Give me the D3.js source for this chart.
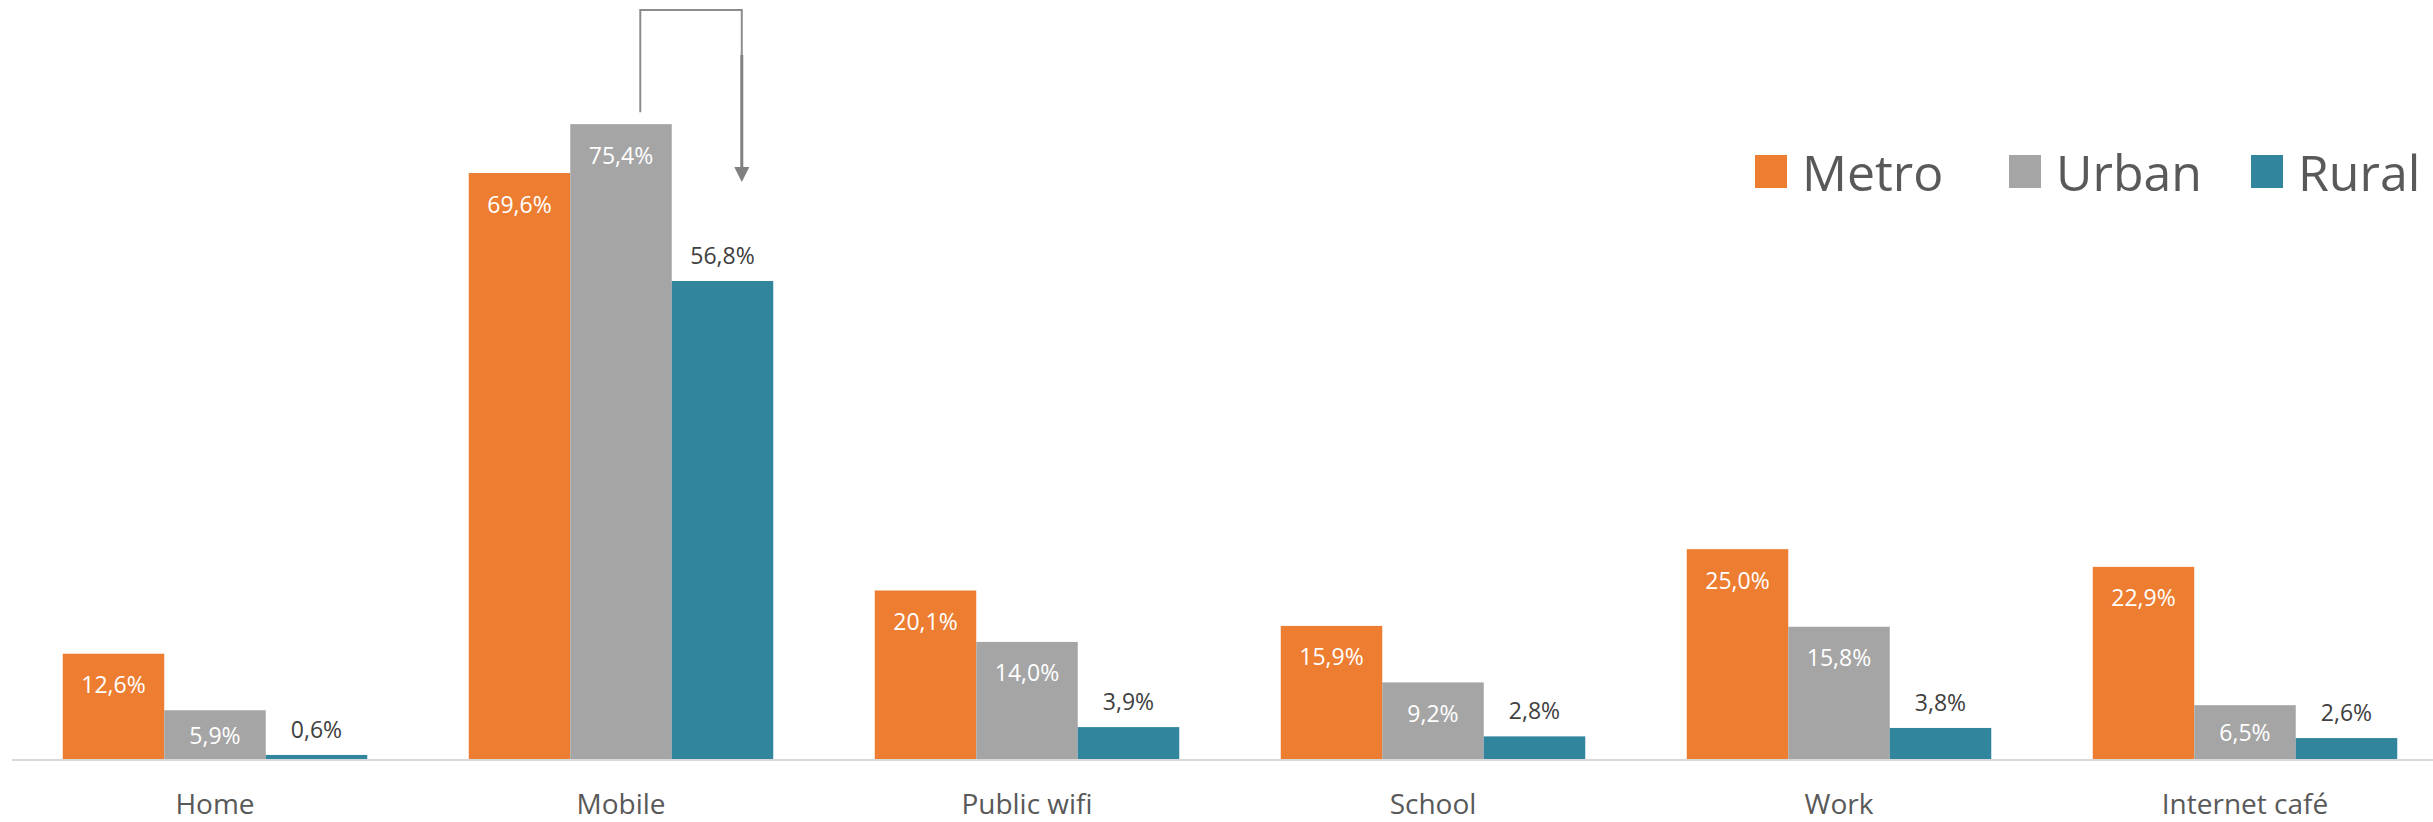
<!DOCTYPE html>
<html>
<head>
<meta charset="utf-8">
<script src="https://cdn.jsdelivr.net/npm/d3@7"></script>
<style>
  html, body { margin: 0; padding: 0; background: #fff; }
  svg { display: block; font-family: "Open Sans", "Noto Sans", sans-serif; }
</style>
</head>
<body>
<svg id="chart" width="2433" height="822"></svg>
<script>
const categories = ["Home", "Mobile", "Public wifi", "School", "Work", "Internet café"];
const seriesNames = ["Metro", "Urban", "Rural"];
const metro = [12.6, 69.6, 20.1, 15.9, 25.0, 22.9];
const urban = [5.9, 75.4, 14.0, 9.2, 15.8, 6.5];
const rural = [0.6, 56.8, 3.9, 2.8, 3.8, 2.6];
const colors = ["#ED7D31", "#A5A5A5", "#31859C"];

const seriesValues = [metro, urban, rural];
const W = 2433, H = 822;
const svg = d3.select("#chart");

const x = d3.scaleBand().domain(categories).range([12, 2448]).paddingInner(0.25).paddingOuter(0.125);
const xs = d3.scaleBand().domain(seriesNames).range([0, x.bandwidth()]);
const y = d3.scaleLinear().domain([0, 90]).range([760, 1]);

const fmt = v => d3.format(".1f")(v).replace(".", ",") + "%";

const rows = [];
categories.forEach((c, i) => {
  seriesNames.forEach((s, j) => rows.push({ cat: c, s, j, v: seriesValues[j][i] }));
});

// bars
svg.append("g").selectAll("rect").data(rows).join("rect")
  .attr("x", d => x(d.cat) + xs(d.s))
  .attr("y", d => y(d.v))
  .attr("width", xs.bandwidth())
  .attr("height", d => y(0) - y(d.v))
  .attr("fill", d => colors[d.j]);

// axis baseline
svg.append("line")
  .attr("x1", 12).attr("x2", W)
  .attr("y1", y(0)).attr("y2", y(0))
  .attr("stroke", "#D9D9D9").attr("stroke-width", 2);

// value labels
svg.append("g").selectAll("text").data(rows).join("text")
  .attr("x", d => x(d.cat) + xs(d.s) + xs.bandwidth() / 2)
  .attr("y", d => {
    const top = y(d.v);
    if (d.j === 2) return top - 17;
    const c = Math.min(top + 31, (top + y(0)) / 2);
    return c + 8.5;
  })
  .attr("text-anchor", "middle")
  .attr("font-size", 23)
  .attr("fill", d => d.j === 2 ? "#404040" : "#FFFFFF")
  .text(d => fmt(d.v));

// category labels
svg.append("g").selectAll("text").data(categories).join("text")
  .attr("x", d => x(d) + x.bandwidth() / 2)
  .attr("y", 814)
  .attr("text-anchor", "middle")
  .attr("font-size", 28)
  .attr("fill", "#595959")
  .text(d => d);

// legend
const legendX = [1755, 2009, 2251];
const lg = svg.append("g").selectAll("g").data(seriesNames).join("g")
  .attr("transform", (d, i) => `translate(${legendX[i]},155)`);
lg.append("rect").attr("width", 32).attr("height", 33).attr("fill", (d, i) => colors[i]);
lg.append("text").attr("x", 47).attr("y", 36)
  .attr("font-size", 50).attr("fill", "#595959").text(d => d);

// annotation arrow (Urban -> Rural on Mobile)
const bx = x("Mobile");
const ax1 = bx + xs("Urban") + xs.bandwidth() * 0.69;
const ax2 = bx + xs("Rural") + xs.bandwidth() * 0.69;
const topY = 10;
svg.append("path")
  .attr("d", `M${ax1},${y(75.4) - 12}V${topY}H${ax2}V${topY + 45}`)
  .attr("fill", "none").attr("stroke", "#8C8C8C").attr("stroke-width", 2);
const tipY = y(56.8) - 99;
svg.append("line")
  .attr("x1", ax2).attr("x2", ax2)
  .attr("y1", topY + 45).attr("y2", tipY - 14)
  .attr("stroke", "#808080").attr("stroke-width", 3);
svg.append("path")
  .attr("d", `M${ax2 - 7.5},${tipY - 15}L${ax2 + 7.5},${tipY - 15}L${ax2},${tipY}Z`)
  .attr("fill", "#808080");
</script>
</body>
</html>
